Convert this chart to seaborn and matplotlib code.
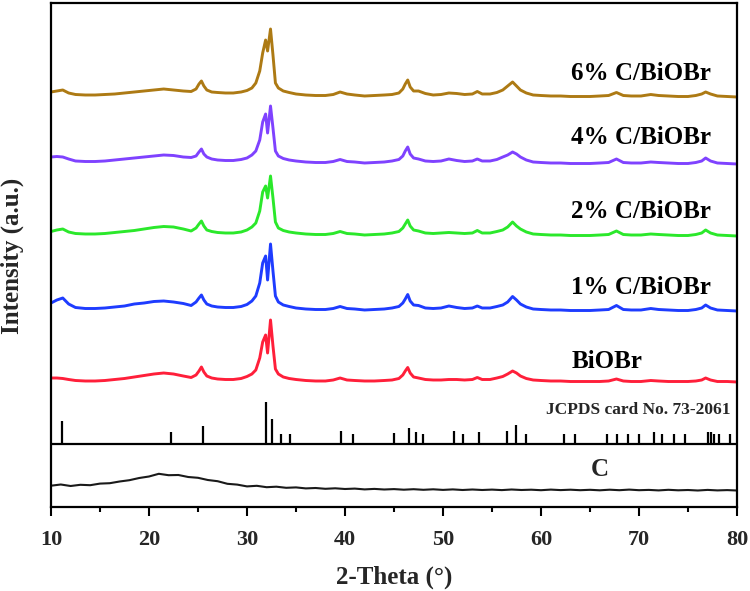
import matplotlib
matplotlib.use("Agg")
import matplotlib.pyplot as plt
import numpy as np
import pandas as pd
import seaborn as sns
from matplotlib.ticker import MultipleLocator

# ---------------- data ----------------
two_theta = [10.0, 10.6, 11.2, 11.8, 12.5, 13.5, 14.5, 15.5, 16.5, 17.5,
             18.5, 19.5, 20.5, 21.5, 22.5, 23.5, 24.3, 24.8, 25.1, 25.35,
             25.6, 25.9, 26.4, 27.0, 27.8, 28.6, 29.4, 30.0, 30.5, 30.9,
             31.3, 31.6, 31.9, 32.1, 32.4, 32.65, 32.9, 33.2, 33.7, 34.3,
             35.0, 36.0, 37.0, 38.0, 38.8, 39.5, 40.2, 41.0, 42.0, 43.0,
             44.0, 44.8, 45.5, 45.9, 46.15, 46.4, 46.65, 47.0, 47.5, 48.2,
             49.0, 49.8, 50.6, 51.4, 52.2, 53.0, 53.5, 54.0, 54.8, 55.5,
             56.1, 56.6, 57.1, 57.5, 57.9, 58.5, 59.2, 60.0, 61.0, 62.0,
             63.0, 64.0, 65.0, 66.0, 66.9, 67.7, 68.4, 69.2, 70.2, 71.2,
             72.0, 73.0, 74.0, 75.0, 75.8, 76.4, 76.8, 77.3, 78.0, 79.0, 80.0]

int_6 = [5, 6, 7, 4, 2.5, 2, 2, 2.5, 3, 4,
         5, 6, 7, 8, 7, 6, 5.5, 8, 13, 16,
         11, 7, 5, 4.5, 4, 4, 5, 6.5, 9, 14,
         26, 44, 57, 46, 68, 42, 14, 9, 6, 4.5,
         3, 2, 1.5, 1.5, 2.5, 5, 3, 2, 1, 1.5,
         2, 2.5, 4, 8, 13, 17, 10, 6, 6, 3.5,
         2, 2.5, 4, 3.5, 2.5, 3, 5.5, 3, 3, 4.5,
         7, 11, 15, 11, 7, 4, 2, 1.5, 1, 1,
         0.5, 0.5, 0.5, 1, 1.5, 4.5, 1.5, 1, 1, 2.5,
         1.5, 1, 0.5, 0.5, 1.5, 3, 5, 3, 1, 0.5, 0]

int_4 = [7, 7.5, 7, 5, 3, 2.5, 2.5, 3, 4, 5,
         6, 7, 8, 9, 8.5, 7, 6.5, 8, 12, 15,
         10, 7, 5, 4, 3.5, 3.5, 4.5, 6, 9, 13,
         24, 42, 50, 31, 58, 36, 13, 8, 5.5, 4,
         3, 2, 1.5, 1.5, 2.5, 4.5, 2.5, 2, 1, 1.5,
         2, 3, 4.5, 8, 13, 17, 10, 6, 5, 3,
         2.5, 3, 5, 3.5, 2.5, 3, 5, 3, 3, 4.5,
         7, 9, 12, 10, 7, 4, 2, 1.5, 1, 1,
         0.5, 0.5, 0.5, 1, 1.5, 5, 1.5, 1, 1, 2,
         1.5, 1, 0.5, 0.5, 1.5, 3, 6, 3, 1, 0.5, 0]

int_2 = [4.5, 6, 7, 4, 2.5, 2, 2, 2.5, 3.5, 4.5,
         5.5, 7, 8.5, 9.5, 9, 7, 5, 8, 12, 15,
         10, 6, 4.5, 3.5, 3, 3, 4, 6, 9, 13,
         25, 44, 50, 38, 60, 38, 14, 8, 5.5, 4,
         3, 2, 1.5, 1.5, 2.5, 4.5, 2.5, 2, 1, 1.5,
         2, 3, 4.5, 8, 12, 16, 10, 6, 5, 3,
         2.5, 3, 3.5, 3, 2.5, 3, 5.5, 3, 3, 4.5,
         6, 9, 14, 10, 7, 4, 2, 1.5, 1, 1,
         0.5, 0.5, 0.5, 1, 1.5, 5, 1.5, 1, 1, 2,
         1.5, 1, 0.5, 0.5, 1.5, 3, 6, 3, 1, 0.5, 0]

int_1 = [8, 11, 13, 7, 3.5, 2.5, 2.5, 3, 4, 5,
         7, 8, 9.5, 10, 9, 7.5, 5.5, 9, 13, 16,
         11, 7, 5, 4, 3.5, 3.5, 4.5, 6.5, 10, 15,
         28, 48, 55, 31, 67, 40, 15, 9, 6, 4.5,
         3, 2, 1.5, 1.5, 2.5, 4.5, 2.5, 2, 1, 1.5,
         2, 3, 4.5, 8, 12, 16.5, 10, 6, 5.5, 3,
         2.5, 3, 5, 3.5, 2.5, 3, 5, 3, 3, 4.5,
         6, 9, 14.5, 11, 7, 4, 2, 1.5, 1, 1,
         0.5, 0.5, 0.5, 1, 1.5, 5.5, 1.5, 1, 1, 2.5,
         1.5, 1, 0.5, 0.5, 1.5, 3, 6, 3, 1, 0.5, 0]

int_0 = [4, 4, 3.5, 2.5, 1.5, 1, 1, 1.5, 2.5, 3.5,
         5, 6.5, 8, 9, 8, 6, 4.5, 7, 11, 15,
         10, 6, 4, 3, 2.5, 2.5, 3.5, 5.5, 8, 12,
         24, 40, 47, 29, 62, 36, 13, 8, 5, 3.5,
         2.5, 1.5, 1, 1, 2, 4, 2, 1.5, 1, 1,
         1.5, 2, 3.5, 7, 11, 14.5, 9, 5, 4, 2.5,
         2, 2, 2.5, 2.5, 2, 2.5, 4.5, 2.5, 2.5, 4,
         5.5, 8, 11, 9, 6, 3.5, 2, 1.5, 1, 1,
         0.5, 0.5, 0.5, 0.5, 1, 3, 1, 0.5, 0.5, 1.5,
         1, 0.5, 0.5, 0.5, 1, 2, 4, 2, 0.5, 0.5, 0]

sample_names = ["BiOBr", "1% C/BiOBr", "2% C/BiOBr", "4% C/BiOBr", "6% C/BiOBr"]
sample_data = [int_0, int_1, int_2, int_4, int_6]
offsets = [125, 196, 271, 343, 410]
label_y = [145, 220, 295, 370, 434]
colors = ["#FF1F3A", "#1E3CFF", "#2BE82B", "#7F42FF", "#AD7A14"]

jcpds_pos = [11.1, 22.2, 25.5, 31.9, 32.5, 33.5, 34.4, 39.6, 40.8, 45.0,
             46.5, 47.2, 48.0, 51.1, 52.0, 53.7, 56.5, 57.5, 58.5, 62.3,
             63.5, 66.7, 67.8, 68.9, 70.0, 71.5, 72.3, 73.6, 74.7, 77.0,
             77.3, 77.7, 78.2, 79.3]
jcpds_rel = [54, 28, 43, 100, 60, 25, 25, 31, 23, 26,
             37, 29, 25, 31, 25, 28, 31, 45, 25, 25,
             24, 25, 25, 24, 24, 28, 24, 24, 24, 28,
             28, 24, 24, 25]
jcpds_base = 63

c_theta = list(range(10, 81))
c_int = [21.3, 22.5, 21.0, 22.2, 21.8, 23.4, 23.8, 25.5, 26.8, 29.0,
         30.5, 33.2, 31.8, 32.0, 30.0, 29.2, 27.0, 25.8, 23.2, 22.4,
         20.6, 21.2, 19.8, 20.3, 19.2, 19.6, 18.6, 19.0, 18.2, 18.7,
         18.0, 18.4, 17.6, 18.1, 17.5, 17.9, 17.3, 17.8, 17.2, 17.7,
         17.1, 17.6, 17.0, 17.5, 17.0, 17.4, 16.9, 17.5, 17.0, 17.3,
         16.8, 17.4, 16.9, 17.3, 16.8, 17.2, 16.7, 17.3, 16.8, 17.4,
         16.8, 17.1, 16.6, 17.2, 16.7, 17.0, 16.5, 17.1, 16.6, 16.9, 16.5]

# ---------------- style ----------------
sns.set_theme(style="ticks")
plt.rcParams['font.family'] = ['Liberation Serif', 'DejaVu Serif']
plt.rcParams['font.weight'] = 'bold'
plt.rcParams['axes.labelweight'] = 'bold'

fig = plt.figure(figsize=(7.5, 5.91), dpi=100)
ax = fig.add_axes([51 / 750, 84 / 591, 686 / 750, 504 / 591])

rows = []
for name, vals, off in zip(sample_names, sample_data, offsets):
    for t, v in zip(two_theta, vals):
        rows.append({"theta": t, "y": v + off, "sample": name})
df = pd.DataFrame(rows)

for name, col in zip(sample_names, colors):
    sub = df[df["sample"] == name]
    sns.lineplot(data=sub, x="theta", y="y", color=col, linewidth=2.1,
                 estimator=None, sort=False, ax=ax)

df_c = pd.DataFrame({"theta": c_theta, "y": c_int})
sns.lineplot(data=df_c, x="theta", y="y", color="#1a1a1a", linewidth=1.5,
             estimator=None, sort=False, ax=ax)

# reference sticks
jh = [r * 0.42 for r in jcpds_rel]
ax.vlines(jcpds_pos, jcpds_base, [jcpds_base + h for h in jh],
          colors="black", linewidth=1.6)
ax.axhline(jcpds_base, color="black", linewidth=1.6)

# labels
for name, ly in zip(sample_names, label_y):
    ax.text(63.1, ly, name, ha="left", va="center", fontsize=18,
            fontweight="bold", color="black")
ax.text(79.3, 97, "JCPDS card No. 73-2061", ha="right", va="center",
        fontsize=12.5, fontweight="bold")
ax.text(66.0, 37, "C", ha="center", va="center", fontsize=18,
        fontweight="bold")

ax.set_xlim(10, 80)
ax.set_ylim(0, 504)
ax.xaxis.set_major_locator(MultipleLocator(10))
ax.xaxis.set_minor_locator(MultipleLocator(5))
ax.set_yticks([])
ax.tick_params(axis="x", which="major", direction="out", length=6.5,
               width=1.5, labelsize=16, pad=10, color="black")
ax.tick_params(axis="x", which="minor", direction="out", length=3.6,
               width=1.5, color="black")
for lbl in ax.get_xticklabels():
    lbl.set_fontweight("bold")
for s in ax.spines.values():
    s.set_linewidth(1.6)
    s.set_color("black")
    s.set_visible(True)

ax.set_xlabel("2-Theta (°)", fontsize=18, fontweight="bold")
ax.xaxis.label.set_va("center")
ax.xaxis.set_label_coords(0.5, (507 - 577) / 504)
ax.set_ylabel("Intensity (a.u.)", fontsize=18, fontweight="bold")
ax.yaxis.label.set_va("center")
ax.yaxis.set_label_coords((12 - 51) / 686, (507 - 256) / 504)

fig.savefig("out.png", dpi=100)
